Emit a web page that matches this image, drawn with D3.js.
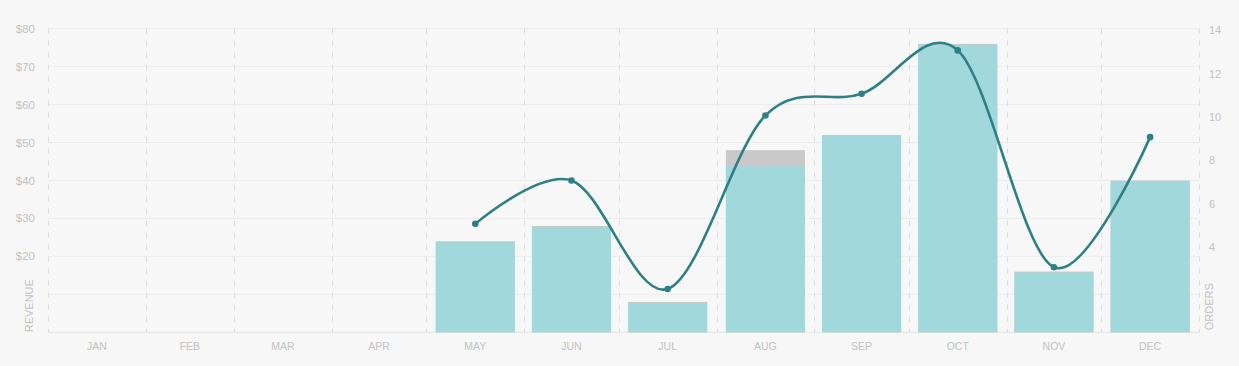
<!DOCTYPE html>
<html>
<head>
<meta charset="utf-8">
<script src="https://cdn.jsdelivr.net/npm/d3@7"></script>
<style>
  html, body { margin: 0; padding: 0; background: #f7f7f7; }
  svg { display: block; font-family: "Liberation Sans", Arial, Helvetica, sans-serif; }
</style>
</head>
<body>
<svg id="chart" width="1239" height="366"></svg>
<script>
// ---- data ----
const months = ["JAN","FEB","MAR","APR","MAY","JUN","JUL","AUG","SEP","OCT","NOV","DEC"];
const dataMonths = ["MAY","JUN","JUL","AUG","SEP","OCT","NOV","DEC"];
const grossRevenue = [24, 28, 8, 48, 52, 76, 16, 40];
const netRevenue   = [24, 28, 8, 44, 52, 76, 16, 40];
const orders       = [5, 7, 2, 10, 11, 13, 3, 9];
const revenueTicks = [20, 30, 40, 50, 60, 70, 80];
const revenueGrid  = [0, 10, 20, 30, 40, 50, 60, 70, 80];
const orderTicks   = [4, 6, 8, 10, 12, 14];
const year = 2019;

// ---- layout ----
const svg = d3.select("#chart");
const plotLeft = 48, plotRight = 1199, plotTop = 28.7, plotBottom = 332.3;
const textColor = "#c2c2c2";

const x = d3.scaleTime()
  .domain([new Date(year, 0, 1), new Date(year + 1, 0, 1)])
  .range([plotLeft, plotRight]);
const yRev = d3.scaleLinear().domain([0, 80]).range([plotBottom, plotTop]);
const yOrd = d3.scaleLinear().domain([0, 14]).range([plotBottom, plotTop]);

const monthStart = i => new Date(year, i, 1);
const monthMid = i => new Date((monthStart(i).getTime() + monthStart(i + 1).getTime()) / 2);
const idx = m => months.indexOf(m);

// horizontal grid
svg.append("g").selectAll("line").data(revenueGrid).join("line")
  .attr("x1", plotLeft).attr("x2", plotRight)
  .attr("y1", d => yRev(d)).attr("y2", d => yRev(d))
  .attr("stroke", d => d === 0 ? "#e4e4e4" : "#ececec")
  .attr("stroke-width", 1);

// vertical dashed month boundaries
const bounds = d3.range(13).map(i => monthStart(i));
svg.append("g").selectAll("line").data(bounds).join("line")
  .attr("x1", d => Math.round(x(d)) + 0.5).attr("x2", d => Math.round(x(d)) + 0.5)
  .attr("y1", plotTop).attr("y2", plotBottom)
  .attr("stroke", "#dcdcdc")
  .attr("stroke-dasharray", "5,7")
  .attr("stroke-width", 1);

// bars
const monthW = (x(monthStart(12)) - x(monthStart(0))) / 12;
const barW = monthW * 0.824;
const bars = svg.append("g");
bars.selectAll("rect.gross").data(dataMonths).join("rect")
  .attr("class", "gross")
  .attr("x", (m) => x(monthMid(idx(m))) - barW / 2)
  .attr("width", barW)
  .attr("y", (m, i) => yRev(grossRevenue[i]))
  .attr("height", (m, i) => plotBottom - yRev(grossRevenue[i]))
  .attr("fill", "#c9c9c9");
bars.selectAll("rect.net").data(dataMonths).join("rect")
  .attr("class", "net")
  .attr("x", (m) => x(monthMid(idx(m))) - barW / 2)
  .attr("width", barW)
  .attr("y", (m, i) => yRev(netRevenue[i]) + 1)
  .attr("height", (m, i) => plotBottom - yRev(netRevenue[i]) - 1)
  .attr("fill", "#a0d8dc");

// line
const pts = dataMonths.map((m, i) => [x(monthMid(idx(m))), yOrd(orders[i])]);
svg.append("path")
  .attr("d", d3.line().curve(d3.curveCardinal)(pts))
  .attr("fill", "none")
  .attr("stroke", "#2e8084")
  .attr("stroke-width", 2.6);
svg.append("g").selectAll("circle").data(pts).join("circle")
  .attr("cx", d => d[0]).attr("cy", d => d[1]).attr("r", 3.3)
  .attr("fill", "#2e8084");

// left ticks
svg.append("g").selectAll("text").data(revenueTicks).join("text")
  .attr("x", 35).attr("y", d => yRev(d)).attr("dy", "0.35em")
  .attr("text-anchor", "end")
  .attr("font-size", 11.5).attr("fill", textColor)
  .text(d => "$" + d);

// right ticks
svg.append("g").selectAll("text").data(orderTicks).join("text")
  .attr("x", 1209).attr("y", d => yOrd(d)).attr("dy", "0.5em")
  .attr("text-anchor", "start")
  .attr("font-size", 11).attr("fill", textColor)
  .text(d => d);

// month labels
svg.append("g").selectAll("text").data(months).join("text")
  .attr("x", (m, i) => x(monthMid(i))).attr("y", 350)
  .attr("text-anchor", "middle")
  .attr("font-size", 10.5).attr("fill", textColor)
  .text(d => d);

// axis titles
svg.append("text")
  .attr("transform", `translate(33,${plotBottom}) rotate(-90)`)
  .attr("text-anchor", "start")
  .attr("font-size", 11).attr("fill", textColor)
  .text("REVENUE");
svg.append("text")
  .attr("transform", `translate(1212.5,${plotBottom - 2}) rotate(-90)`)
  .attr("text-anchor", "start")
  .attr("font-size", 11).attr("fill", textColor)
  .text("ORDERS");
</script>
</body>
</html>
